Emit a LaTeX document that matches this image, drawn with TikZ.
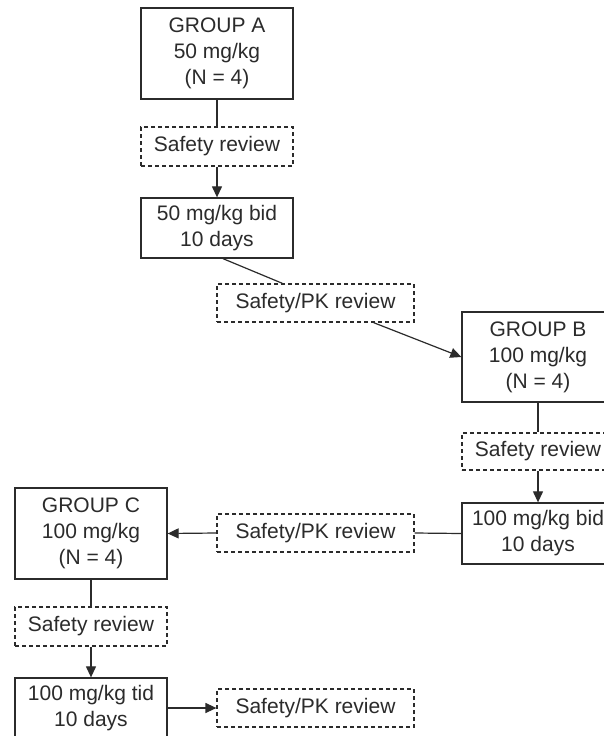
\documentclass[tikz,border=0pt]{standalone}
\usepackage{fontspec}
\setmainfont{Liberation Sans}
\usetikzlibrary{arrows.meta,calc}
\definecolor{ink}{HTML}{2B2B2B}
\tikzset{
  solidbox/.style={draw=ink, line width=1.3pt, text=ink, align=center, inner sep=0pt,
    minimum width=152pt, font=\fontsize{21}{26}\selectfont},
  dashbox/.style={draw=ink, line width=1.2pt, dash pattern=on 4pt off 3pt, text=ink, align=center,
    inner sep=0pt, minimum height=38pt, font=\fontsize{21}{26}\selectfont},
  conn/.style={draw=ink, line width=1.2pt},
  arr/.style={conn, -{Triangle[length=11pt,width=10pt]}}
}
\begin{document}
\begin{tikzpicture}[x=1pt,y=-1pt]
\useasboundingbox (0,0) rectangle (603,736);
\fill[white] (0,0) rectangle (603,736);
% column A
\node[solidbox, minimum height=91pt] (ga) at (217,53.5) {GROUP A\\50 mg/kg\\(N = 4)};
\node[dashbox, minimum width=152pt, minimum height=39pt] (sa) at (217,146.5) {Safety review};
\node[solidbox, minimum height=60pt] (ba) at (217,228) {50 mg/kg bid\\10 days};
\node[dashbox, minimum width=197pt] (pk1) at (315.5,303) {Safety/PK review};
% column B
\node[solidbox, minimum height=90pt] (gb) at (538,357) {GROUP B\\100 mg/kg\\(N = 4)};
\node[dashbox, minimum width=152pt, minimum height=37pt] (sb) at (538,451.5) {Safety review};
\node[solidbox, minimum height=61pt] (bb) at (538,533.5) {100 mg/kg bid\\10 days};
\node[dashbox, minimum width=197pt] (pk2) at (315.5,533) {Safety/PK review};
% column C
\node[solidbox, minimum height=91pt] (gc) at (91,533.5) {GROUP C\\100 mg/kg\\(N = 4)};
\node[dashbox, minimum width=152pt, minimum height=39pt] (sc) at (91,626.5) {Safety review};
\node[solidbox, minimum height=60pt] (tc) at (91,708) {100 mg/kg tid\\10 days};
\node[dashbox, minimum width=197pt] (pk3) at (315.5,708) {Safety/PK review};
% connectors
\draw[conn] (ga.south) -- (sa.north);
\draw[arr] (sa.south) -- (ba.north);
\draw[conn] ($(ba.south)+(6,0)$) -- ($(pk1.north)+(-33,0)$);
\draw[arr] ($(pk1.south)+(58,0)$) -- (gb.west);
\draw[conn] (gb.south) -- (sb.north);
\draw[arr] (sb.south) -- (bb.north);
\draw[conn] (bb.west) -- (pk2.east);
\draw[arr] (pk2.west) -- (gc.east);
\draw[conn] (gc.south) -- (sc.north);
\draw[arr] (sc.south) -- (tc.north);
\draw[arr] (tc.east) -- (pk3.west);
\end{tikzpicture}
\end{document}
